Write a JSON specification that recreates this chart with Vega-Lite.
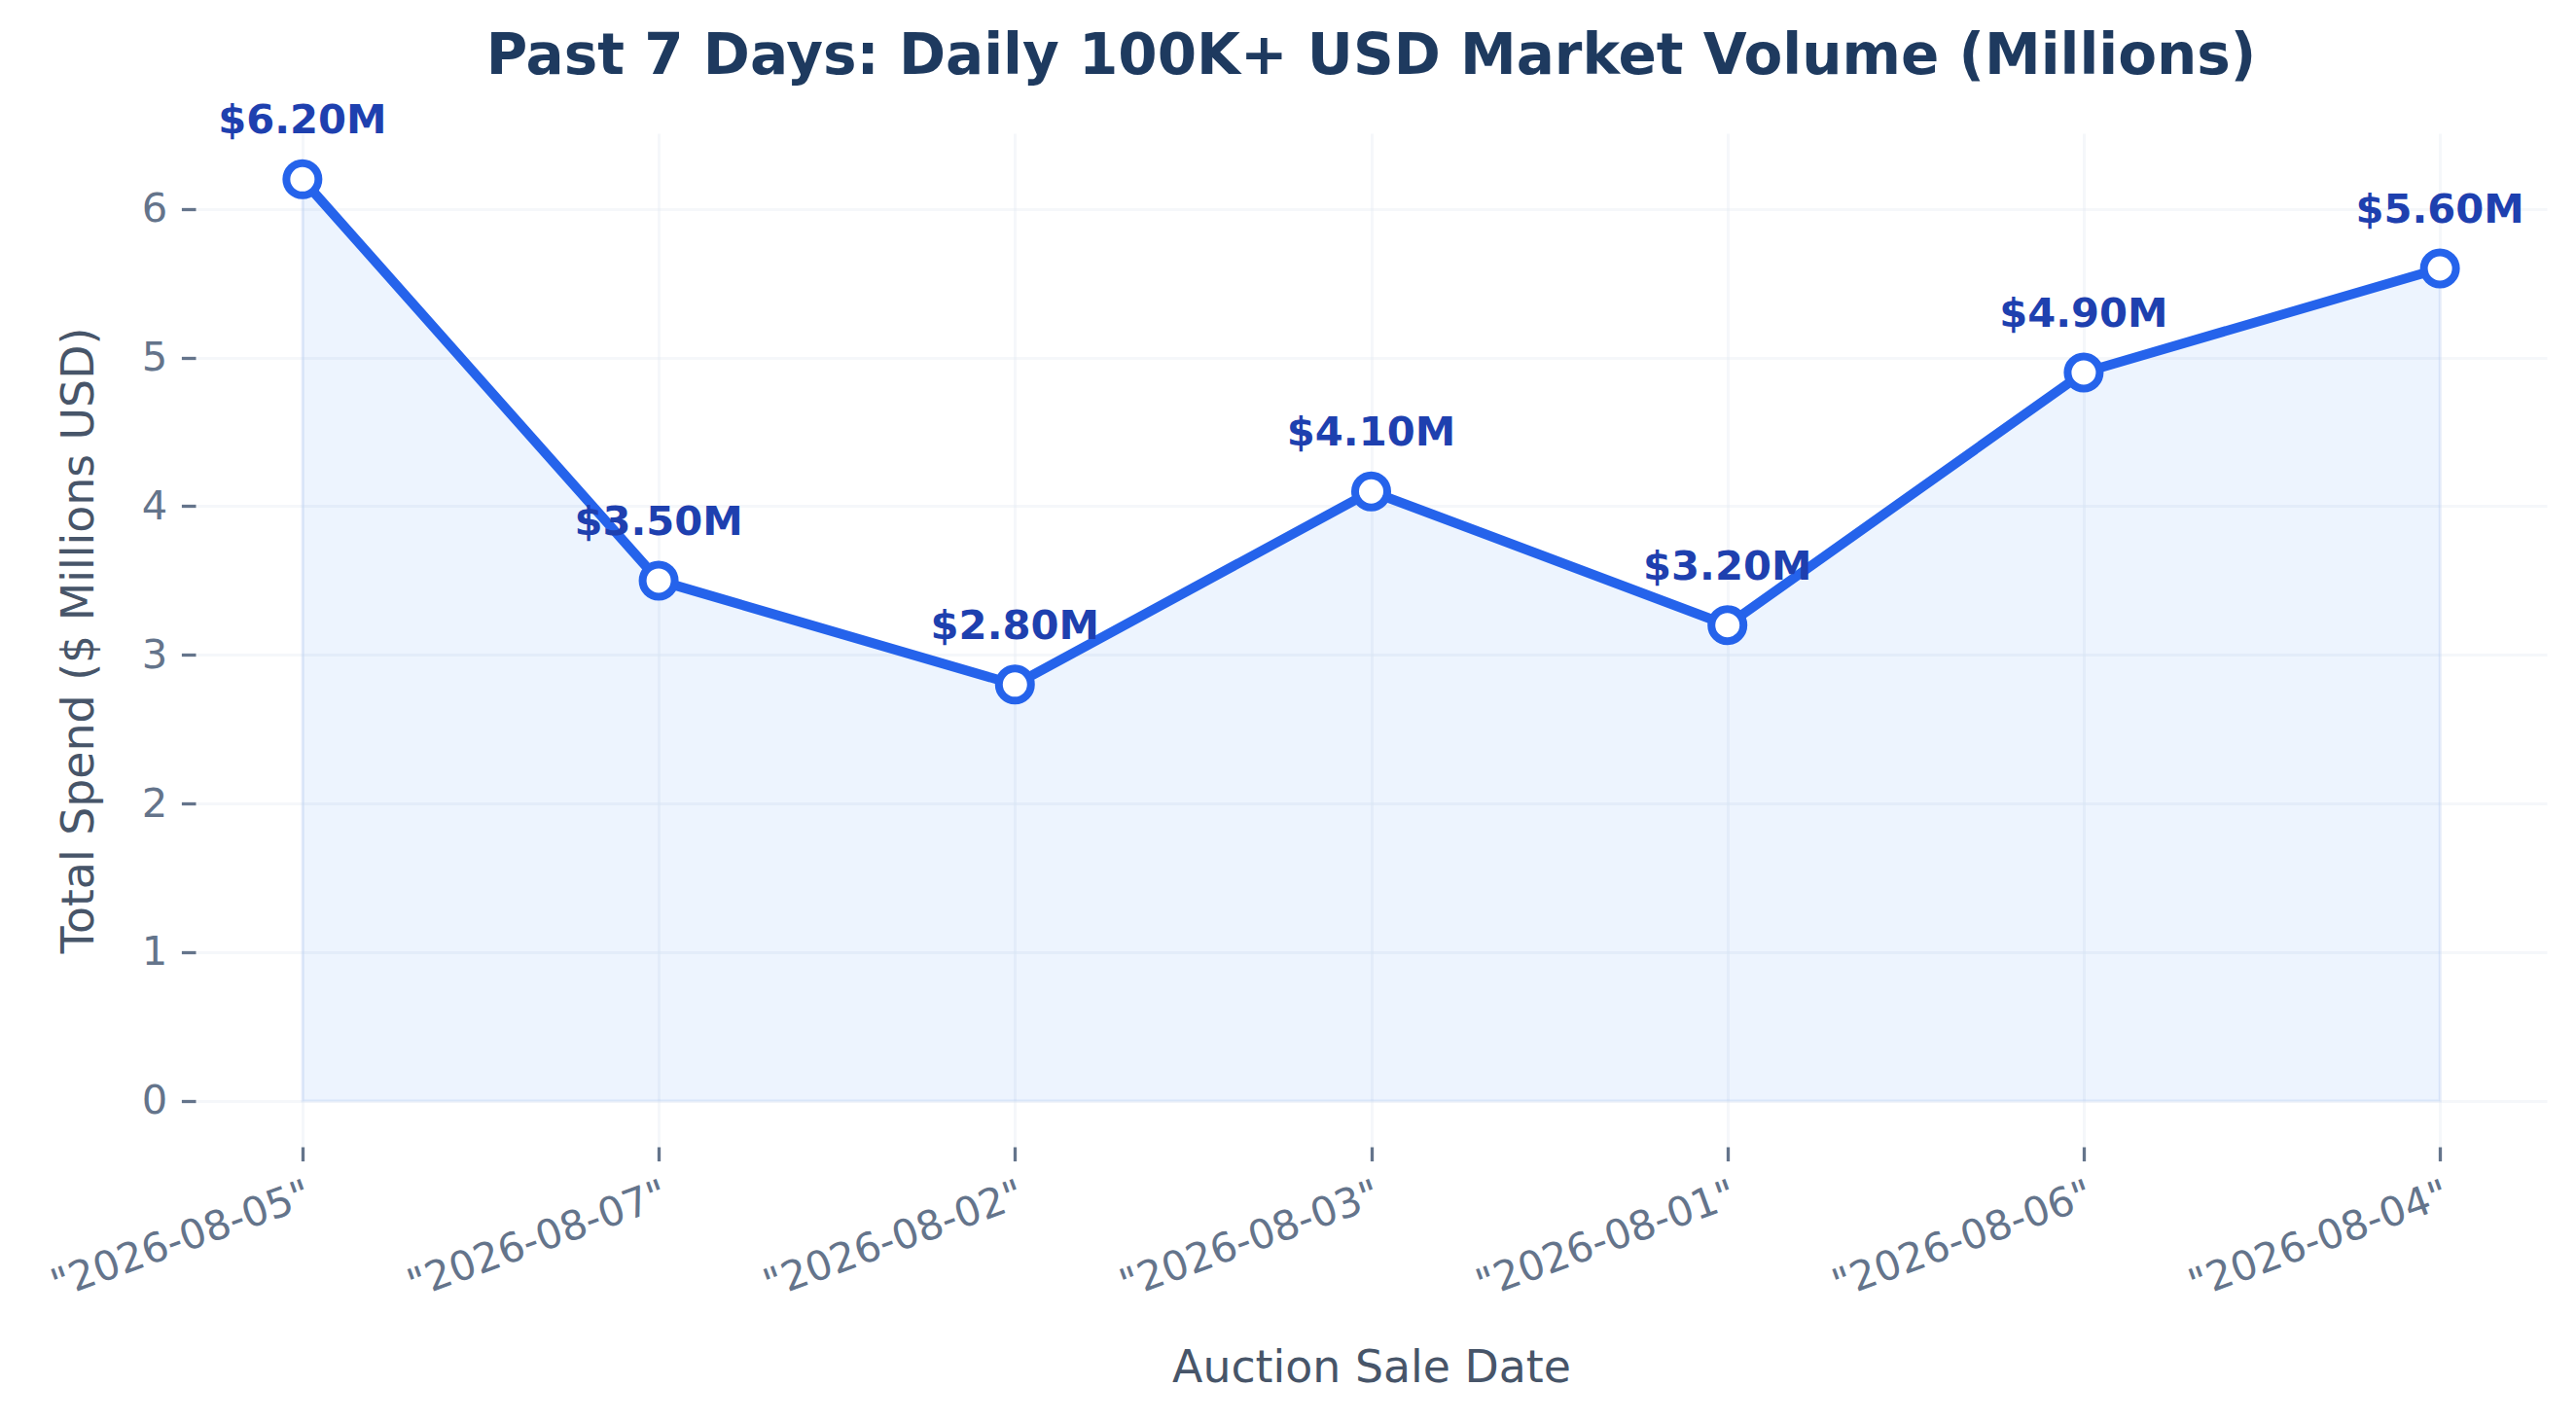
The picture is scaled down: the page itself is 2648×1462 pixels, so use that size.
{
  "$schema": "https://vega.github.io/schema/vega-lite/v6.json",
  "autosize": "none",
  "width": 2417,
  "height": 1042,
  "padding": {"left": 201, "top": 137, "right": 30, "bottom": 283},
  "background": "white",
  "title": {
    "text": "Past 7 Days: Daily 100K+ USD Market Volume (Millions)",
    "font": "DejaVu Sans",
    "fontSize": 58,
    "fontWeight": "bold",
    "color": "#1e3a5f",
    "anchor": "middle",
    "baseline": "alphabetic",
    "offset": -30
  },
  "data": {
    "values": [
      {"date": "\"2026-08-05\"", "volume": 6.2, "label": "$6.20M"},
      {"date": "\"2026-08-07\"", "volume": 3.5, "label": "$3.50M"},
      {"date": "\"2026-08-02\"", "volume": 2.8, "label": "$2.80M"},
      {"date": "\"2026-08-03\"", "volume": 4.1, "label": "$4.10M"},
      {"date": "\"2026-08-01\"", "volume": 3.2, "label": "$3.20M"},
      {"date": "\"2026-08-06\"", "volume": 4.9, "label": "$4.90M"},
      {"date": "\"2026-08-04\"", "volume": 5.6, "label": "$5.60M"}
    ]
  },
  "encoding": {
    "x": {
      "field": "date",
      "type": "ordinal",
      "sort": null,
      "scale": {"type": "point", "padding": 0.3},
      "title": "Auction Sale Date",
      "axis": {
        "labelAngle": -20,
        "labelAlign": "right",
        "labelBaseline": "top",
        "labelDx": -14,
        "labelPadding": 14,
        "labelLimit": 0,
        "titleBaseline": "alphabetic",
        "titleY": 241
      }
    },
    "y": {
      "field": "volume",
      "type": "quantitative",
      "scale": {"domain": [-0.31, 6.51], "nice": false, "zero": false},
      "title": "Total Spend ($ Millions USD)",
      "axis": {
        "values": [0, 1, 2, 3, 4, 5, 6],
        "titleBaseline": "alphabetic",
        "titleX": -106
      }
    }
  },
  "layer": [
    {
      "mark": {
        "type": "area",
        "fill": "#3b82f6",
        "fillOpacity": 0.09,
        "stroke": "#3b82f6",
        "strokeOpacity": 0.08,
        "strokeWidth": 3
      },
      "encoding": {"y2": {"datum": 0}}
    },
    {
      "mark": {"type": "line", "color": "#2563eb", "strokeWidth": 10, "strokeJoin": "round"}
    },
    {
      "mark": {
        "type": "point",
        "shape": "circle",
        "filled": true,
        "fill": "white",
        "stroke": "#2563eb",
        "strokeWidth": 8,
        "size": 1089,
        "opacity": 1
      }
    },
    {
      "mark": {
        "type": "text",
        "font": "DejaVu Sans",
        "fontSize": 41.7,
        "fontWeight": "bold",
        "color": "#1e40af",
        "align": "center",
        "baseline": "alphabetic",
        "dy": -47
      },
      "encoding": {"text": {"field": "label"}}
    }
  ],
  "config": {
    "view": {"stroke": null},
    "axis": {
      "domain": false,
      "grid": true,
      "gridColor": "#e2e8f0",
      "gridOpacity": 0.35,
      "gridWidth": 3,
      "ticks": true,
      "tickSize": 14.6,
      "tickWidth": 3.3,
      "tickColor": "#64748b",
      "labelFont": "DejaVu Sans",
      "labelFontSize": 41.7,
      "labelColor": "#64748b",
      "labelPadding": 14.6,
      "titleFont": "DejaVu Sans",
      "titleFontSize": 45.8,
      "titleFontWeight": "normal",
      "titleColor": "#475569"
    }
  }
}
